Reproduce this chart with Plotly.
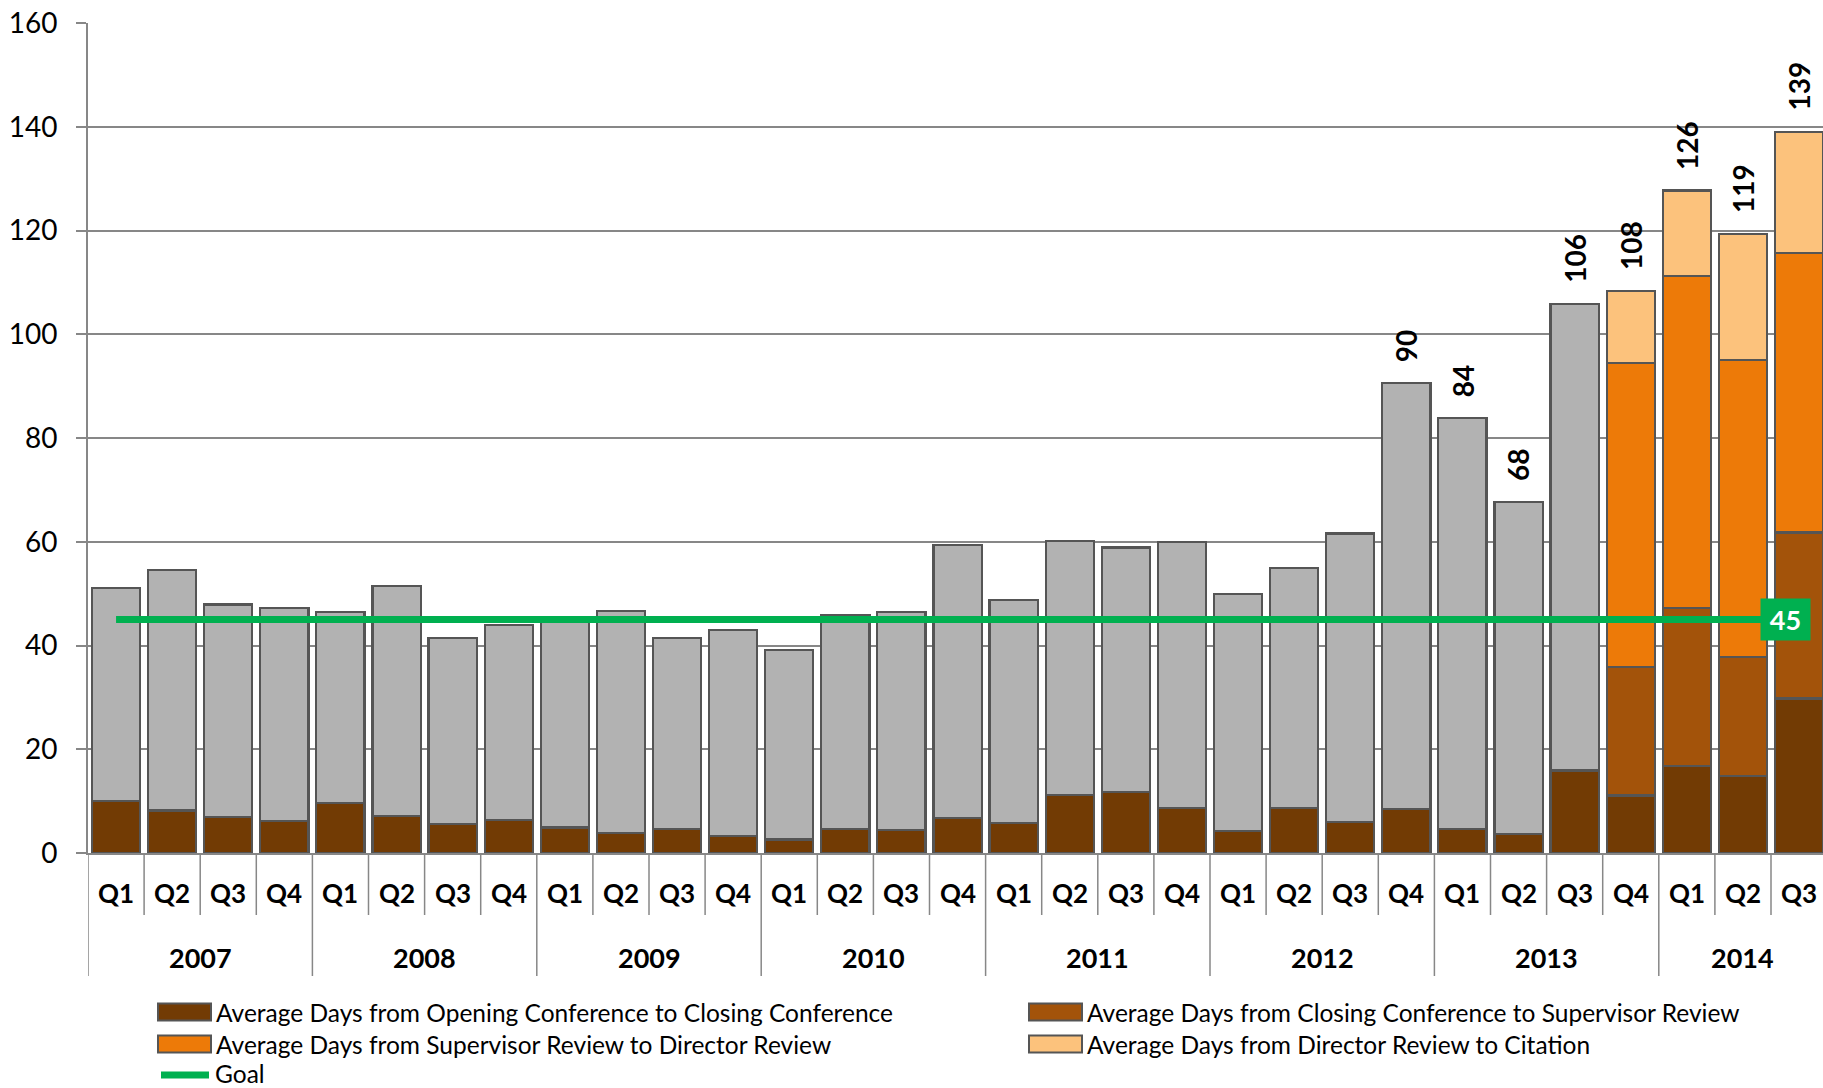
import plotly.graph_objects as go

# ---------------- data ----------------
years = ["2007"] * 4 + ["2008"] * 4 + ["2009"] * 4 + ["2010"] * 4 + ["2011"] * 4 + \
        ["2012"] * 4 + ["2013"] * 4 + ["2014"] * 3
quarters = ["Q1", "Q2", "Q3", "Q4"] * 7 + ["Q1", "Q2", "Q3"]

# Average Days from Opening Conference to Closing Conference
opening_to_closing = [10.0, 8.2, 6.9, 6.2, 9.7, 7.2, 5.6, 6.4,
                      4.9, 3.9, 4.6, 3.3, 2.6, 4.7, 4.5, 6.7,
                      5.8, 11.2, 11.7, 8.6, 4.3, 8.6, 5.9, 8.5,
                      4.7, 3.7, 15.9, 11.1, 16.8, 14.8, 29.8]
# remaining days (not itemised) for the older quarters
remaining_days = [41.1, 46.3, 41.0, 41.0, 36.7, 44.2, 35.8, 37.5,
                  40.1, 42.8, 36.8, 39.7, 36.5, 41.2, 41.9, 52.6,
                  42.9, 48.9, 47.2, 51.3, 45.7, 46.4, 55.7, 82.1,
                  79.2, 63.9, 90.0, None, None, None, None]
# Average Days from Closing Conference to Supervisor Review
closing_to_supervisor = [None] * 27 + [24.7, 30.5, 23.0, 32.0]
# Average Days from Supervisor Review to Director Review
supervisor_to_director = [None] * 27 + [58.6, 64.0, 57.2, 53.8]
# Average Days from Director Review to Citation
director_to_citation = [None] * 27 + [14.0, 16.4, 24.4, 23.4]
# Total labels
total_labels = [None] * 23 + [90, 84, 68, 106, 108, 126, 119, 139]
# Goal
goal = [45, 45, 45, 45, 45, 45, 45, 45, 45, 45, 45, 45, 45, 45, 45, 45,
        45, 45, 45, 45, 45, 45, 45, 45, 45, 45, 45, 45, 45, 45, 45]
goal_label = "45"

series_names = [
    "Average Days from Opening Conference to Closing Conference",
    "Average Days from Closing Conference to Supervisor Review",
    "Average Days from Supervisor Review to Director Review",
    "Average Days from Director Review to Citation",
]

# ---------------- style ----------------
W, H = 1823, 1088
ML, MR, MT, MB = 88, 0, 23, 235
PW, PH = W - ML - MR, H - MT - MB
QW = 56.1  # pixel width of one quarter
FONT = "Lato"
C_DARK = "#723b04"
C_MED = "#a3530a"
C_ORANGE = "#ed7a08"
C_LIGHT = "#fcc27c"
C_GREY = "#b2b2b2"
C_GREEN = "#00b050"
C_OUT = "#555555"
C_AX = "#878787"

n = len(quarters)
xs = list(range(n))


def px_x(p):
    return (p - ML) / PW


def px_y(p):
    return (MT + PH - p) / PH


fig = go.Figure()
bar_line = dict(color=C_OUT, width=2.2)
fig.add_trace(go.Bar(x=xs, y=opening_to_closing, marker=dict(color=C_DARK, line=bar_line),
                     name=series_names[0], showlegend=False))
fig.add_trace(go.Bar(x=xs, y=remaining_days, marker=dict(color=C_GREY, line=bar_line),
                     name="", showlegend=False))
fig.add_trace(go.Bar(x=xs, y=closing_to_supervisor, marker=dict(color=C_MED, line=bar_line),
                     name=series_names[1], showlegend=False))
fig.add_trace(go.Bar(x=xs, y=supervisor_to_director, marker=dict(color=C_ORANGE, line=bar_line),
                     name=series_names[2], showlegend=False))
fig.add_trace(go.Bar(x=xs, y=director_to_citation, marker=dict(color=C_LIGHT, line=bar_line),
                     name=series_names[3], showlegend=False))
fig.add_trace(go.Scatter(x=xs, y=goal, mode="lines", line=dict(color=C_GREEN, width=7),
                         name="Goal", showlegend=False))

annotations = []
shapes = []

# total labels above bars
for i in range(n):
    if total_labels[i] is None:
        continue
    top = sum(v for v in (opening_to_closing[i], remaining_days[i], closing_to_supervisor[i],
                          supervisor_to_director[i], director_to_citation[i]) if v is not None)
    annotations.append(dict(x=xs[i], y=top, xref="x", yref="y", text=str(total_labels[i]),
                            showarrow=False, textangle=-90, yanchor="bottom", xanchor="center",
                            yshift=19, font=dict(family=FONT, size=28, color="black", weight="bold")))

# goal label
annotations.append(dict(x=xs[-1], y=goal[-1], xref="x", yref="y", text="<b>" + goal_label + "</b>",
                        showarrow=False, xanchor="right", yanchor="middle", xshift=12,
                        width=49, height=41, bgcolor=C_GREEN, borderpad=0,
                        font=dict(family=FONT, size=27, color="white")))

# quarter labels + tick lines
for i in range(n):
    annotations.append(dict(x=xs[i], y=px_y(893), xref="x", yref="paper", text="<b>" + quarters[i] + "</b>",
                            showarrow=False, xanchor="center", yanchor="middle",
                            font=dict(family=FONT, size=26, color="black")))
for i in range(n):
    if i == 0 or years[i] != years[i - 1]:
        y_end = px_y(976)
    else:
        y_end = px_y(915)
    shapes.append(dict(type="line", xref="x", yref="paper", x0=i - 0.5, x1=i - 0.5,
                       y0=0, y1=y_end, line=dict(color=C_AX, width=1.5)))

# year labels
uniq_years = []
for y in years:
    if y not in uniq_years:
        uniq_years.append(y)
for yr in uniq_years:
    idx = [i for i in range(n) if years[i] == yr]
    annotations.append(dict(x=sum(idx) / len(idx), y=px_y(957), xref="x", yref="paper",
                            text="<b>" + yr + "</b>", showarrow=False, xanchor="center",
                            yanchor="middle", font=dict(family=FONT, size=27, color="black")))

# custom legend
legend_items = [
    (series_names[0], C_DARK, 158, 1012),
    (series_names[1], C_MED, 1029, 1012),
    (series_names[2], C_ORANGE, 158, 1044),
    (series_names[3], C_LIGHT, 1029, 1044),
]
for name, col, lx, ly in legend_items:
    shapes.append(dict(type="rect", xref="paper", yref="paper",
                       x0=px_x(lx), x1=px_x(lx + 53), y0=px_y(ly + 8.5), y1=px_y(ly - 8.5),
                       fillcolor=col, line=dict(color=C_OUT, width=2)))
    annotations.append(dict(x=px_x(lx + 56), y=px_y(ly), xref="paper", yref="paper", text=name,
                            showarrow=False, xanchor="left", yanchor="middle",
                            font=dict(family=FONT, size=24.5, color="black")))
shapes.append(dict(type="line", xref="paper", yref="paper", x0=px_x(161), x1=px_x(209),
                   y0=px_y(1075), y1=px_y(1075), line=dict(color=C_GREEN, width=7)))
annotations.append(dict(x=px_x(214), y=px_y(1073), xref="paper", yref="paper", text="Goal",
                        showarrow=False, xanchor="left", yanchor="middle", borderpad=0,
                        font=dict(family=FONT, size=24.5, color="black")))

fig.update_layout(
    width=W, height=H,
    margin=dict(l=ML, r=MR, t=MT, b=MB, pad=0),
    paper_bgcolor="white", plot_bgcolor="white",
    barmode="stack", bargap=0.14,
    showlegend=False,
    font=dict(family=FONT, color="black"),
    xaxis=dict(range=[-0.5, -0.5 + PW / QW], showticklabels=False, showgrid=False,
               zeroline=False, showline=True, linecolor=C_AX, linewidth=2, ticks=""),
    yaxis=dict(range=[0, 160], dtick=20, tick0=0, showgrid=True, gridcolor=C_AX, gridwidth=1.5,
               zeroline=False, showline=True, linecolor=C_AX, linewidth=2,
               ticks="outside", ticklen=10, tickcolor=C_AX, tickwidth=1.5,
               tickfont=dict(family=FONT, size=28, color="black"), ticklabelstandoff=13),
    annotations=annotations,
    shapes=shapes,
)

fig.write_html("out.html")
